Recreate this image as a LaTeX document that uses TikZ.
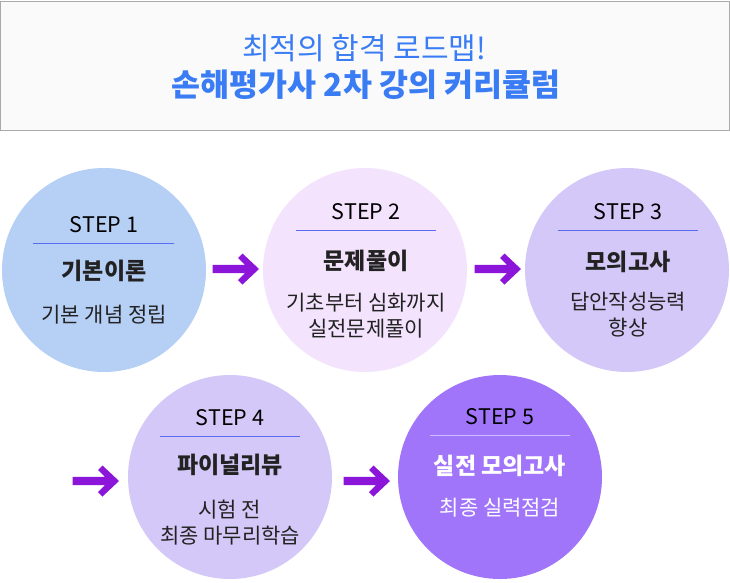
\documentclass[tikz,border=0pt]{standalone}
\usepackage{fontspec}
\setmainfont{Noto Sans CJK KR}
\definecolor{titleblue}{HTML}{3A7CF4}
\definecolor{hdrfill}{HTML}{FAFAFA}
\definecolor{hdrline}{HTML}{AAAAAA}
\definecolor{cA}{HTML}{B6CFF5}
\definecolor{cB}{HTML}{F3E3FD}
\definecolor{cC}{HTML}{D3C8F7}
\definecolor{cD}{HTML}{D3C8F7}
\definecolor{cE}{HTML}{A075FA}
\definecolor{arrowcol}{HTML}{8B15D9}
\definecolor{sepblue}{HTML}{5A6CF2}
\definecolor{seplight}{HTML}{CDBDFF}
\definecolor{txt}{HTML}{222222}
\begin{document}
\begin{tikzpicture}[x=1pt,y=-1pt,
  stepcircle/.style={circle,minimum size=204pt,inner sep=0pt,draw=none},
  steplbl/.style={text=black,font=\fontsize{21.5}{24}\selectfont,inner sep=0pt},
  stitle/.style={text=txt,font=\bfseries\fontsize{23}{26}\selectfont,inner sep=0pt},
  sdesc/.style={text=txt,font=\fontsize{21}{26}\selectfont,align=center,inner sep=0pt},
  sepline/.style={draw=sepblue,line width=1pt},
  fatarrow/.pic={\fill[arrowcol] (0,0) -- (-16.5,-15.5) -- (-21,-11) -- (-14,-4.2) -- (-46.5,-4.2) -- (-46.5,4.2) -- (-14,4.2) -- (-21,11) -- (-16.5,15.5) -- cycle;}
]
\useasboundingbox (0,0) rectangle (730,582);
\fill[white] (0,0) rectangle (730,582);
% header
\node[draw=hdrline,fill=hdrfill,line width=1pt,minimum width=729pt,minimum height=129pt,inner sep=0pt] (hdr) at (365,65.5) {};
\node[text=titleblue,font=\fontsize{30}{32}\selectfont,inner sep=0pt] (t1) at (364,48.5) {최적의 합격 로드맵!};
\node[text=titleblue,font=\bfseries\fontsize{31.5}{34}\selectfont,inner sep=0pt] (t2) at (366,85) {손해평가사 2차 강의 커리큘럼};
% circles
\node[stepcircle,fill=cA] (c1) at (104,270) {};
\node[stepcircle,fill=cB] (c2) at (365,270) {};
\node[stepcircle,fill=cC] (c3) at (627,270) {};
\node[stepcircle,fill=cD] (c4) at (230,477) {};
\node[stepcircle,fill=cE] (c5) at (500,477) {};
% step 1
\node[steplbl] (s1) at (104,225) {STEP 1};
\draw[sepline] (33,243) -- (174,243);
\node[stitle] (n1) at (104,271) {기본이론};
\node[sdesc] (d1) at (104,315) {기본 개념 정립};
% step 2
\node[steplbl] (s2) at (366,212) {STEP 2};
\draw[sepline] (296,230) -- (436,230);
\node[stitle] (n2) at (366,261) {문제풀이};
\node[sdesc] (d2) at (366,316) {기초부터 심화까지\\실전문제풀이};
% step 3
\node[steplbl] (s3) at (628,212) {STEP 3};
\draw[sepline] (558,230) -- (698,230);
\node[stitle] (n3) at (628,262) {모의고사};
\node[sdesc] (d3) at (628,315) {답안작성능력\\향상};
% step 4
\node[steplbl] (s4) at (230,418) {STEP 4};
\draw[sepline] (160,436) -- (300,436);
\node[stitle] (n4) at (230,465) {파이널리뷰};
\node[sdesc] (d4) at (230,523) {시험 전\\최종 마무리학습};
% step 5
\node[steplbl] (s5) at (500,417) {STEP 5};
\draw[draw=seplight,line width=1pt] (430,435) -- (570,435);
\node[stitle,text=white] (n5) at (500,466) {실전 모의고사};
\node[sdesc,text=white] (d5) at (500,508) {최종 실력점검};
% arrows
\pic at (259,269) {fatarrow};
\pic at (521,269) {fatarrow};
\pic at (119,481) {fatarrow};
\pic at (390,481) {fatarrow};
\end{tikzpicture}
\end{document}
